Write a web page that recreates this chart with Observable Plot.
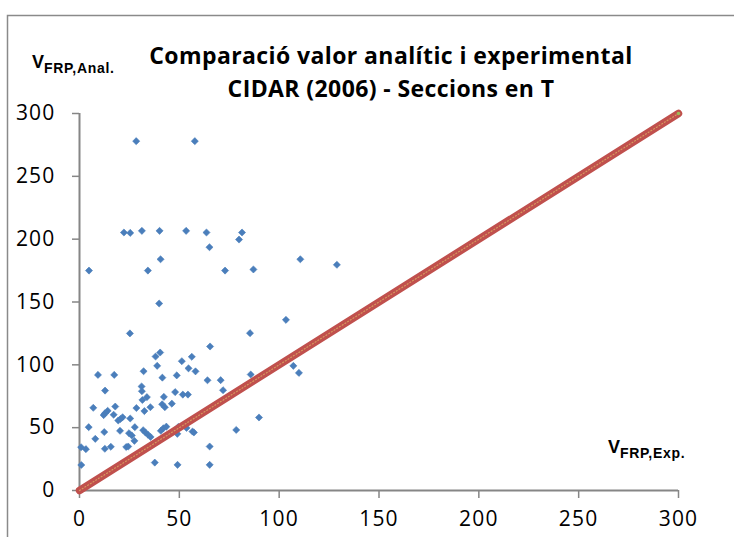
<!DOCTYPE html>
<html>
<head>
<meta charset="utf-8">
<script src="https://cdn.jsdelivr.net/npm/d3@7"></script>
<script src="https://cdn.jsdelivr.net/npm/@observablehq/plot@0.6"></script>
<style>
  body { margin: 0; background: #fff; }
  #chart { position: relative; width: 734px; height: 537px; overflow: hidden; background: #fff; }
</style>
</head>
<body>
<div id="chart"></div>
<script>
// V_FRP,Exp. (x) and V_FRP,Anal. (y)
const expX = [
  28.4, 57.75, 4.75, 22.25, 25.4, 31.25, 40.1, 34.25, 40.6, 53.4,
  63.6, 65.1, 72.9, 79.9, 81.4, 87.1, 110.6, 128.9, 103.4, 85.4,
  65.4, 107.1, 109.9, 85.75, 89.9, 39.9, 25.25, 40.4, 38.1, 51.25,
  56.25, 38.9, 54.6, 58.1, 9.25, 17.4, 32.1, 48.7, 41.5, 64.1,
  70.7, 71.9, 12.8, 31.1, 31.25, 31.5, 33.75, 47.9, 51.75, 54.3,
  42.25, 41.4, 42.75, 46.25, 35.5, 32.5, 28.5, 17.9, 6.9, 14.1,
  12.75, 12.1, 17.1, 21.6, 20.5, 19.4, 25.4, 20.3, 12.4, 4.6,
  7.9, 0.8, 3.2, 12.7, 15.7, 23.4, 24.4, 24.8, 26.2, 27.7,
  27.5, 31.9, 33.0, 34.3, 35.6, 40.75, 42.0, 43.5, 49.0, 49.5,
  53.6, 56.6, 57.3, 78.5, 65.2, 37.7, 49.1, 65.2, 0.9
];
const analY = [
  278, 278, 175, 205.3, 205, 206.6, 206.6, 175, 184, 206.6,
  205.3, 193.6, 175, 199.7, 205.3, 175.9, 184, 179.6, 135.8, 125.2,
  114.6, 99.2, 93.6, 92.3, 58.1, 148.8, 125, 109.8, 106.6, 102.9,
  106.4, 99.2, 97.2, 94.8, 92, 92, 94.9, 91.6, 89.8, 87.7,
  87.8, 79.8, 79.5, 82.8, 79, 72, 74.3, 78.3, 76.3, 76.3,
  74.5, 68.6, 66.3, 69.1, 66.3, 63.2, 65.6, 66.8, 65.8, 63.4,
  61.4, 60, 60.3, 58.3, 56.9, 55.7, 57.3, 47.5, 46.5, 50.4,
  41.1, 34.4, 32.9, 33.2, 34.8, 34.6, 35, 45.6, 43.8, 50.4,
  39.5, 48, 46.2, 44.4, 42.6, 47.5, 49.5, 50.8, 45.1, 50.6,
  49.8, 46.9, 46.2, 48.2, 35, 22.2, 20.4, 20.4, 20.3
];
// reference line V_Anal = V_Exp
const refX = [0, 300];
const refY = [0, 300];

const xTicks = [0, 50, 100, 150, 200, 250, 300];
const yTicks = [0, 50, 100, 150, 200, 250, 300];

const title1 = "Comparació valor analític i experimental";
const title2 = "CIDAR (2006) - Seccions en T";
const yLabelMain = "V", yLabelSub = "FRP,Anal.";
const xLabelMain = "V", xLabelSub = "FRP,Exp.";

const points = expX.map((x, i) => ({x, y: analY[i]}));
const ref = refX.map((x, i) => ({x, y: refY[i]}));

const axisGray = "#868686";

const plot = Plot.plot({
  width: 734,
  height: 537,
  marginLeft: 79,
  marginRight: 56,
  marginTop: 113,
  marginBottom: 47,
  x: {domain: [0, 300]},
  y: {domain: [0, 300]},
  style: {fontFamily: "'Open Sans', sans-serif", fontSize: "21px", color: "#000", background: "#fff", overflow: "visible"},
  marks: [
    Plot.axisX({ticks: xTicks, tickSize: 8, tickPadding: 13, tickFormat: d => String(d), label: null,
                stroke: axisGray, strokeWidth: 1.5, fill: "#000", fontSize: 21}),
    Plot.axisY({ticks: yTicks, tickSize: 7, tickPadding: 17, tickFormat: d => String(d), label: null,
                stroke: axisGray, strokeWidth: 1.5, fill: "#000", fontSize: 21}),
    Plot.ruleX([0], {stroke: axisGray, strokeWidth: 2}),
    Plot.ruleY([0], {stroke: axisGray, strokeWidth: 2}),
    Plot.dot(points, {x: "x", y: "y", symbol: "diamond2", r: 3.2, fill: "#4a7ebb", stroke: "#4a7ebb", strokeWidth: 0.6}),
    Plot.line(ref, {x: "x", y: "y", stroke: "#c0504d", strokeWidth: 7.5, strokeLinecap: "round"}),
    Plot.line(ref, {x: "x", y: "y", stroke: "#d9a760", strokeWidth: 1.2, strokeDasharray: "1,2.2", strokeOpacity: 0.85}),
    Plot.dot(ref, {filter: d => d.x === 300, x: "x", y: "y", r: 1.8, fill: "#9bbb59"})
  ]
});

document.getElementById("chart").appendChild(plot);

const svg = d3.select(plot);
// widen tick labels slightly
svg.selectAll("g[aria-label='x-axis tick label'] text, g[aria-label='y-axis tick label'] text")
   .attr("letter-spacing", "1.2px");

// outer chart border (left and top edges visible)
svg.append("path")
   .attr("d", "M7.5,537 L7.5,15.5 L734,15.5")
   .attr("fill", "none").attr("stroke", "#8a8a8a").attr("stroke-width", 1.5);

// title
const t = svg.append("g")
   .attr("font-family", "'Open Sans', sans-serif")
   .attr("font-weight", "bold")
   .attr("font-size", 23)
   .attr("letter-spacing", "0.4px")
   .attr("fill", "#000")
   .attr("text-anchor", "middle");
t.append("text").attr("x", 391).attr("y", 64).text(title1);
t.append("text").attr("x", 391).attr("y", 97).text(title2);

// axis labels with subscripts
function subLabel(x, y, main, sub) {
  const txt = svg.append("text")
    .attr("x", x).attr("y", y)
    .attr("text-anchor", "start")
    .attr("font-family", "'Liberation Sans', Arial, sans-serif")
    .attr("font-weight", "bold")
    .attr("fill", "#000");
  txt.append("tspan").attr("font-size", 18).text(main);
  txt.append("tspan").attr("font-size", 14).attr("dy", 5).attr("letter-spacing", "0.7px").text(sub);
}
subLabel(32, 68, yLabelMain, yLabelSub);
subLabel(608, 453, xLabelMain, xLabelSub);
</script>
</body>
</html>
